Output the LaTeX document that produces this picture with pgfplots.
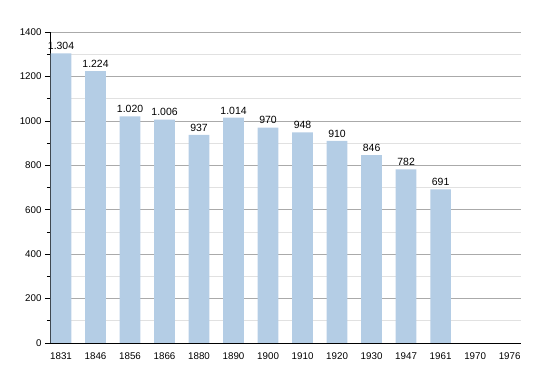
\documentclass[border=0pt]{standalone}
\usepackage{pgfplots}
\pgfplotsset{compat=1.18}
\usepackage{fontspec}
\setmainfont{Liberation Sans}
\definecolor{barblue}{RGB}{180,205,229}
\definecolor{majgrid}{RGB}{170,170,170}
\definecolor{mingrid}{RGB}{225,225,225}
\begin{document}
\begin{tikzpicture}
\begin{axis}[
  scale only axis,
  width=471bp, height=311bp,
  xmin=-0.32, xmax=13.33,
  ymin=0, ymax=1400,
  xtick={0,...,13},
  xticklabels={1831,1846,1856,1866,1880,1890,1900,1910,1920,1930,1947,1961,1970,1976},
  ytick={0,200,...,1400},
  minor ytick={100,300,...,1300},
  ymajorgrids, yminorgrids,
  major grid style={majgrid, line width=0.6pt},
  minor grid style={mingrid, line width=0.6pt},
  axis x line*=bottom,
  axis y line*=left,
  axis line style={black, line width=0.8pt, -},
  x tick style={draw=none},
  y tick style={black, line width=0.6pt},
  tick align=outside,
  major tick length=5bp,
  minor tick length=3bp,
  tick label style={font=\fontsize{9.8}{11}\selectfont},
  xticklabel style={yshift=-1bp},
  /pgf/number format/assume math mode=true,
  yticklabel style={/pgf/number format/1000 sep={}},
  every node near coord/.append style={font=\fontsize{10.5}{12}\selectfont, black, /pgf/number format/1000 sep={.}, /pgf/number format/assume math mode=true},
]
\addplot[ybar, bar width=0.6, fill=barblue, draw=none, nodes near coords, nodes near coords align={vertical}] coordinates {
  (0,1304) (1,1224) (2,1020) (3,1006) (4,937) (5,1014) (6,970) (7,948) (8,910) (9,846) (10,782) (11,691)
};
\coordinate (sw) at (rel axis cs:0,0);
\end{axis}
\pgfresetboundingbox
\path (sw) ++(-50bp,-30bp) rectangle ++(550bp,373bp);
\end{tikzpicture}
\end{document}
